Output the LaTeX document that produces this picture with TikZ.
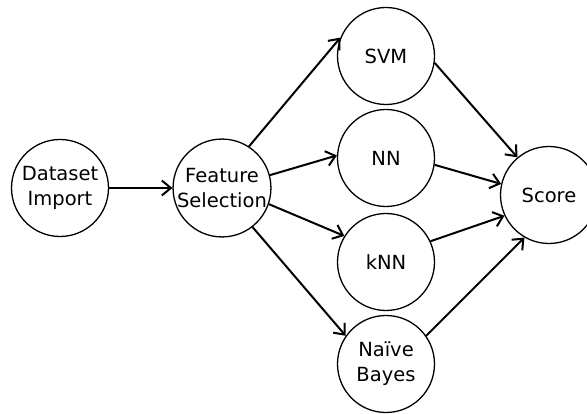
\documentclass[tikz,border=0pt]{standalone}
\usepackage{fontspec}
\setsansfont{DejaVu Sans}
\usetikzlibrary{arrows.meta}
\begin{document}
\begin{tikzpicture}[x=1pt,y=-1pt,
  stage/.style={circle,draw=black,line width=1.3pt,minimum size=97pt,inner sep=0pt,
    align=center,font=\sffamily\fontsize{19.5}{25}\selectfont},
  flow/.style={line width=2pt,-{Straight Barb[length=9pt,width=15pt,line width=2pt]}}]
\clip (0,0) rectangle (587,414);
\fill[white] (0,0) rectangle (587,414);
\node[stage] (ds) at (60,188) {Dataset\\Import};
\node[stage] (fs) at (222,188) {Feature\\Selection};
\node[stage] (svm) at (386,56) {SVM};
\node[stage] (nn) at (386,158) {NN};
\node[stage] (knn) at (386,262) {kNN};
\node[stage] (nb) at (386,364) {Naïve\\Bayes};
\node[stage] (sc) at (549,195) {Score};
\draw[flow] (ds.east) -- (fs.west);
\draw[flow] (fs.57) -- (svm.158);
\draw[flow] (fs.15) -- (nn.177);
\draw[flow] (fs.-19) -- (knn.148);
\draw[flow] (fs.-52) -- (nb.145);
\draw[flow] (svm.-8) -- (sc.130);
\draw[flow] (nn.-8) -- (sc.167);
\draw[flow] (knn.25) -- (sc.205);
\draw[flow] (nb.35) -- (sc.240);
\end{tikzpicture}
\end{document}
